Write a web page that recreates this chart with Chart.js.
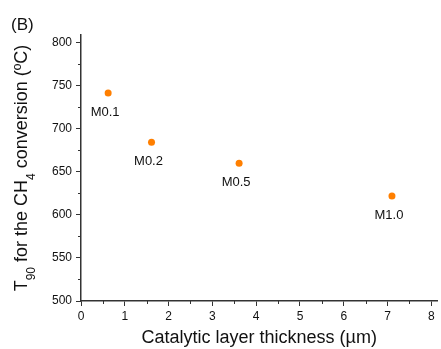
<!DOCTYPE html>
<html>
<head>
<meta charset="utf-8">
<script src="https://cdn.jsdelivr.net/npm/chart.js@4"></script>
<style>
    body { margin: 0; background: #fff; }
    #box { width: 441px; height: 349px; }
</style>
</head>
<body>
<div id="box"><canvas id="grafico" width="441" height="349"></canvas></div>
<script>
// Datos (B)
const espesor = [0.62, 1.61, 3.61, 7.10];        // um
const t90 = [741.5, 684.5, 660, 622];            // ºC
const muestras = ['M0.1', 'M0.2', 'M0.5', 'M1.0'];
const ticksX = [0, 1, 2, 3, 4, 5, 6, 7, 8];
const ticksY = [500, 550, 600, 650, 700, 750, 800];
const menoresX = [0.5, 1.5, 2.5, 3.5, 4.5, 5.5, 6.5, 7.5];
const menoresY = [525, 575, 625, 675, 725, 775];

const fuente = '"Liberation Sans", Arial, sans-serif';
const colorEje = '#333333';
const colorTexto = '#111111';

// Plugin para rotulos, ticks menores y titulo del eje Y con subindices
const extras = {
    id: 'extras',
    afterDraw(chart) {
        const ctx = chart.ctx;
        const x = chart.scales.x;
        const y = chart.scales.y;
        const area = chart.chartArea;
        ctx.save();

        // ticks menores
        ctx.strokeStyle = colorEje;
        ctx.lineWidth = 1;
        ctx.beginPath();
        menoresX.forEach(v => {
            const px = Math.round(x.getPixelForValue(v)) + 0.5;
            ctx.moveTo(px, area.bottom);
            ctx.lineTo(px, area.bottom + 3);
        });
        menoresY.forEach(v => {
            const py = Math.round(y.getPixelForValue(v)) + 0.5;
            ctx.moveTo(area.left - 3, py);
            ctx.lineTo(area.left, py);
        });
        ctx.stroke();

        // etiquetas de las muestras
        ctx.fillStyle = colorTexto;
        ctx.font = '13px ' + fuente;
        ctx.textAlign = 'center';
        ctx.textBaseline = 'middle';
        const meta = chart.getDatasetMeta(0);
        meta.data.forEach((pt, i) => {
            ctx.fillText(muestras[i], pt.x - 3, pt.y + 19);
        });

        // letra del panel
        ctx.textAlign = 'left';
        ctx.textBaseline = 'alphabetic';
        ctx.font = '17px ' + fuente;
        ctx.fillText('(B)', 11, 30);

        // titulo del eje Y
        const partes = [
            ['T', false], ['90', true], [' for the CH', false],
            ['4', true], [' conversion (ºC)', false]
        ];
        let total = 0;
        partes.forEach(p => {
            ctx.font = (p[1] ? '12px ' : '18px ') + fuente;
            total += ctx.measureText(p[0]).width;
        });
        ctx.translate(27, (area.top + area.bottom) / 2);
        ctx.rotate(-Math.PI / 2);
        let pos = -total / 2;
        partes.forEach(p => {
            ctx.font = (p[1] ? '12px ' : '18px ') + fuente;
            ctx.fillText(p[0], pos, p[1] ? 8 : 0);
            pos += ctx.measureText(p[0]).width;
        });
        ctx.restore();
    }
};

const ctx = document.getElementById('grafico').getContext('2d');
const grafico = new Chart(ctx, {
    type: 'scatter',
    data: {
        datasets: [{
            data: espesor.map((v, i) => ({ x: v, y: t90[i] })),
            backgroundColor: '#ff7f00',
            borderColor: '#ff7f00',
            pointRadius: 3.5,
            pointHoverRadius: 3.5,
            borderWidth: 0
        }]
    },
    options: {
        responsive: false,
        animation: false,
        layout: {
            padding: { top: 35, right: 0, left: 0, bottom: 0 }
        },
        plugins: {
            legend: { display: false },
            tooltip: { enabled: false }
        },
        scales: {
            x: {
                type: 'linear',
                min: 0,
                max: 8.14,
                afterBuildTicks: s => { s.ticks = ticksX.map(v => ({ value: v })); },
                afterFit: s => { s.height = 48; },
                border: { color: colorEje, width: 1.5 },
                grid: { drawOnChartArea: false, tickLength: 5, color: colorEje },
                ticks: { color: colorTexto, font: { size: 12, family: fuente }, padding: 3 },
                title: {
                    display: true,
                    text: 'Catalytic layer thickness (µm)',
                    color: colorTexto,
                    font: { size: 18, family: fuente },
                    padding: { top: 2, bottom: 0 }
                }
            },
            y: {
                min: 500,
                max: 809,
                afterBuildTicks: s => { s.ticks = ticksY.map(v => ({ value: v })); },
                afterFit: s => { s.width = 81; },
                border: { color: colorEje, width: 1.5 },
                grid: { drawOnChartArea: false, tickLength: 5, color: colorEje },
                ticks: { color: colorTexto, font: { size: 12, family: fuente }, padding: 4 }
            }
        }
    },
    plugins: [extras]
});
</script>
</body>
</html>
